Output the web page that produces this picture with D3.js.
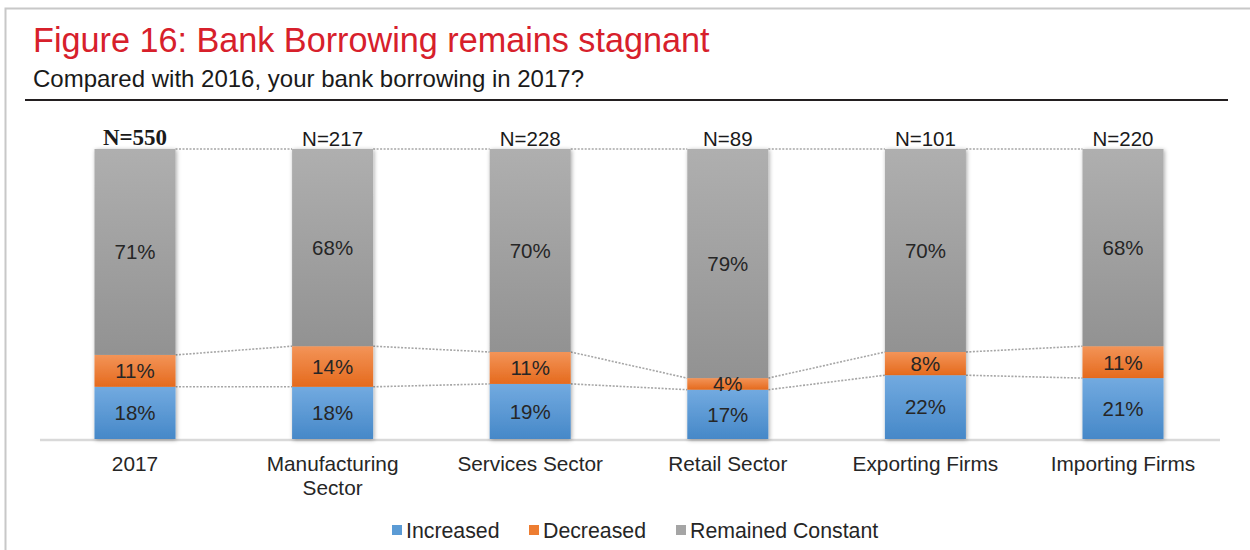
<!DOCTYPE html>
<html>
<head>
<meta charset="utf-8">
<script src="https://cdn.jsdelivr.net/npm/d3@7"></script>
<style>
  html, body { margin: 0; padding: 0; background: #fff; }
  svg { display: block; font-family: "Liberation Sans", Arial, sans-serif; }
</style>
</head>
<body>
<svg id="chart" width="1250" height="550"></svg>
<script>
// Survey: change in bank borrowing, 2017 vs 2016 (percent of respondents)
const categories = ["2017", "Manufacturing Sector", "Services Sector", "Retail Sector", "Exporting Firms", "Importing Firms"];
const sampleSizes = ["N=550", "N=217", "N=228", "N=89", "N=101", "N=220"];
const seriesNames = ["Increased", "Decreased", "Remained Constant"];
const increased = [18, 18, 19, 17, 22, 21];
const decreased = [11, 14, 11, 4, 8, 11];
const remainedConstant = [71, 68, 70, 79, 70, 68];

const W = 1250, H = 550;
const svg = d3.select("#chart");

// Gradients and shadow
const defs = svg.append("defs");
const gradStops = {
  Increased: ["#72aae0", "#4688c8"],
  Decreased: ["#f39458", "#e56a1d"],
  "Remained Constant": ["#afafaf", "#929292"]
};
const gradId = {};
seriesNames.forEach((s, i) => {
  const id = "grad" + i;
  gradId[s] = id;
  const g = defs.append("linearGradient").attr("id", id)
    .attr("x1", 0).attr("y1", 0).attr("x2", 0).attr("y2", 1);
  g.append("stop").attr("offset", "0%").attr("stop-color", gradStops[s][0]);
  g.append("stop").attr("offset", "100%").attr("stop-color", gradStops[s][1]);
});
const legendColor = { Increased: "#5b9bd5", Decreased: "#ed7d31", "Remained Constant": "#a5a5a5" };

const shadow = defs.append("filter").attr("id", "barShadow")
  .attr("x", "-20%").attr("y", "-5%").attr("width", "140%").attr("height", "110%");
shadow.append("feDropShadow").attr("dx", 1).attr("dy", 1)
  .attr("stdDeviation", 2).attr("flood-color", "#000").attr("flood-opacity", 0.35);

// Panel frame
svg.append("path")
  .attr("d", "M5.5,550 L5.5,8.5 L1250,8.5")
  .attr("fill", "none").attr("stroke", "#c8c8c8").attr("stroke-width", 2);

// Title block
svg.append("text").attr("x", 33).attr("y", 52)
  .attr("font-size", 34.2).attr("fill", "#d7202b")
  .text("Figure 16: Bank Borrowing remains stagnant");
svg.append("text").attr("x", 33).attr("y", 87)
  .attr("font-size", 24).attr("fill", "#1a1a1a")
  .text("Compared with 2016, your bank borrowing in 2017?");
svg.append("line").attr("x1", 25).attr("x2", 1228).attr("y1", 100).attr("y2", 100)
  .attr("stroke", "#231f20").attr("stroke-width", 2);

// Scales
const x = d3.scalePoint().domain(categories).range([36.2, 1221.8]).padding(0.5);
const barW = x.step() * 0.41;
const y = d3.scaleLinear().domain([0, 100]).range([439, 149]);

// Stack
const rows = categories.map((c, i) => ({
  category: c,
  Increased: increased[i],
  Decreased: decreased[i],
  "Remained Constant": remainedConstant[i]
}));
const stacked = d3.stack().keys(seriesNames)(rows);

// Dotted connectors between adjacent bars at each segment boundary
const connectors = svg.append("g");
stacked.forEach(layer => {
  for (let i = 0; i < categories.length - 1; i++) {
    connectors.append("line")
      .attr("x1", x(categories[i]) + barW / 2)
      .attr("y1", y(layer[i][1]))
      .attr("x2", x(categories[i + 1]) - barW / 2)
      .attr("y2", y(layer[i + 1][1]))
      .attr("stroke", "#a6a6a6").attr("stroke-width", 1.6)
      .attr("stroke-dasharray", "2,1.5");
  }
});

// Baseline axis
const axisG = svg.append("g").attr("transform", `translate(0,${y(0) + 1})`)
  .call(d3.axisBottom(x).tickSize(0).tickFormat(""));
axisG.select(".domain").attr("d", "M40,0H1220").attr("stroke", "#d9d9d9").attr("stroke-width", 2.5);

// Bars with shadow
const barsG = svg.append("g");
barsG.selectAll("g.bar").data(categories).join("g")
  .attr("class", "bar").attr("filter", "url(#barShadow)");
stacked.forEach(layer => {
  barsG.selectAll("g.bar").data(layer).append("rect")
    .attr("x", d => x(d.data.category) - barW / 2)
    .attr("y", d => y(d[1]))
    .attr("width", barW)
    .attr("height", d => y(d[0]) - y(d[1]))
    .attr("fill", `url(#${gradId[layer.key]})`);
});

// Segment labels
stacked.forEach(layer => {
  svg.append("g").selectAll("text").data(layer).join("text")
    .attr("x", d => x(d.data.category))
    .attr("y", d => (y(d[0]) + y(d[1])) / 2)
    .attr("dy", "0.36em")
    .attr("text-anchor", "middle")
    .attr("font-size", 20.5)
    .attr("fill", "#262626")
    .text(d => d.data[layer.key] + "%");
});

// Sample sizes above bars
svg.append("g").selectAll("text").data(categories).join("text")
  .attr("x", d => x(d))
  .attr("y", (d, i) => i === 0 ? 145 : 146)
  .attr("text-anchor", "middle")
  .attr("font-size", (d, i) => i === 0 ? 23 : 20.5)
  .attr("font-weight", (d, i) => i === 0 ? "bold" : "normal")
  .style("font-family", (d, i) => i === 0 ? "'Liberation Serif', 'Times New Roman', serif" : null)
  .attr("fill", "#1a1a1a")
  .text((d, i) => sampleSizes[i]);

// Category labels (wrapped)
const wrapped = { "Manufacturing Sector": ["Manufacturing", "Sector"] };
const catG = svg.append("g").selectAll("text").data(categories).join("text")
  .attr("x", d => x(d))
  .attr("y", 471)
  .attr("text-anchor", "middle")
  .attr("font-size", 20.8)
  .attr("fill", "#262626");
catG.each(function(d) {
  const lines = wrapped[d] || [d];
  d3.select(this).selectAll("tspan").data(lines).join("tspan")
    .attr("x", x(d)).attr("dy", (l, j) => j === 0 ? 0 : 24).text(l => l);
});

// Legend
const legendItems = [
  { key: "Increased", x: 392 },
  { key: "Decreased", x: 529 },
  { key: "Remained Constant", x: 676 }
];
const lg = svg.append("g").selectAll("g").data(legendItems).join("g")
  .attr("transform", d => `translate(${d.x},530)`);
lg.append("rect").attr("x", 0).attr("y", -5).attr("width", 10).attr("height", 10)
  .attr("fill", d => legendColor[d.key]);
lg.append("text").attr("x", 14).attr("y", 0).attr("dy", "0.36em")
  .attr("font-size", 21.3).attr("fill", "#262626")
  .text(d => d.key);
</script>
</body>
</html>
